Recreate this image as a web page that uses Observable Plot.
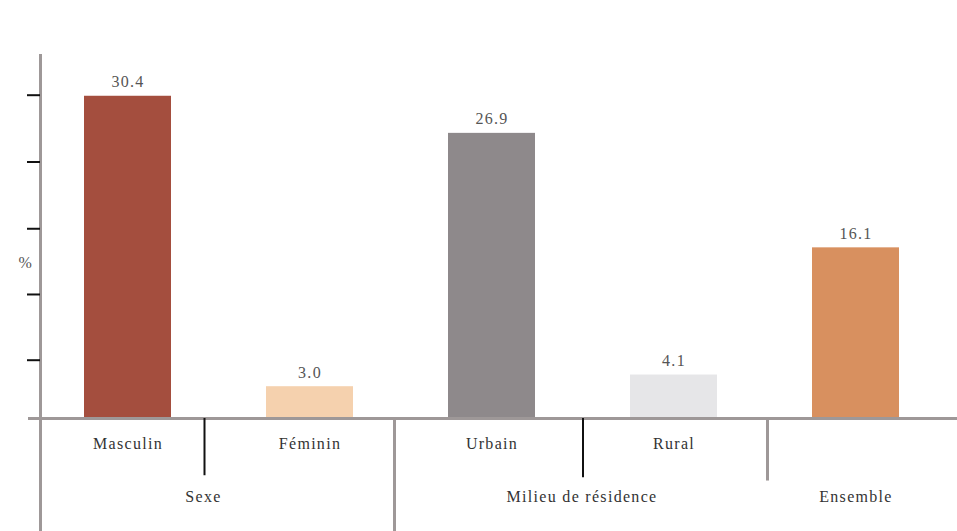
<!DOCTYPE html>
<html>
<head>
<meta charset="utf-8">
<script src="https://cdn.jsdelivr.net/npm/d3@7"></script>
<script src="https://cdn.jsdelivr.net/npm/@observablehq/plot@0.6"></script>
<style>
  html, body { margin: 0; padding: 0; background: #fff; }
  #chart svg { display: block; }
</style>
</head>
<body>
<div id="chart"></div>
<script>
// Data
const categories = ["Masculin", "Féminin", "Urbain", "Rural", "Ensemble"];
const values = [30.4, 3.0, 26.9, 4.1, 16.1];
const barColors = ["#a44e3e", "#f5d1ae", "#8e898b", "#e6e6e8", "#d8905f"];
const groups = ["Sexe", "Milieu de résidence", "Ensemble"];
const yTicks = [5.5, 11.7, 17.9, 24.2, 30.5];

const bars = categories.map((c, i) => ({category: c, value: values[i], color: barColors[i]}));

const W = 957, H = 531;
const gray = "#9e9898";
const serif = "'Liberation Serif', 'DejaVu Serif', serif";
const fs = 16;

const sep = (cat, y2, dx, stroke, sw) =>
  Plot.ruleX([cat], {x: d => d, y1: 0, y2: y2, dx, stroke, strokeWidth: sw, clip: false});
const groupText = (label, cat, dx) =>
  Plot.text([label], {x: () => cat, y: 0, dy: 78, dx, fill: "#333", fontSize: fs});

const chart = Plot.plot({
  width: W,
  height: H,
  marginTop: 55,
  marginBottom: 0,
  marginLeft: 40,
  marginRight: 0,
  style: {fontFamily: serif, background: "#fff", letterSpacing: "1.3px"},
  x: {domain: categories, range: [35.25, 947.75], paddingInner: 0.523, paddingOuter: 0.2615, axis: null},
  y: {domain: [0, 35], range: [418, 47], axis: null, label: null},
  color: {type: "identity"},
  marks: [
    Plot.barY(bars, {x: "category", y: "value", fill: "color"}),
    Plot.text(bars, {x: "category", y: "value", text: d => d.value.toFixed(1), dy: -14, fill: "#555", fontSize: fs}),
    Plot.frame({anchor: "left", stroke: gray, strokeWidth: 3}),
    Plot.ruleY([0], {stroke: gray, strokeWidth: 3, insetLeft: -12}),
    Plot.axisY({ticks: yTicks, tickSize: 13, tickFormat: () => "", label: null, stroke: "#111", strokeWidth: 2, anchor: "left"}),
    sep(categories[0], -5.4, 76.5, "#111", 2),
    sep(categories[1], -11, 84.5, gray, 3),
    sep(categories[2], -5.6, 91, "#111", 2),
    sep(categories[3], -5.9, 93.5, gray, 3),
    Plot.text(categories.slice(0, 4), {x: d => d, y: 0, dy: 25, fill: "#333", fontSize: fs}),
    groupText(groups[0], categories[0], 75.5),
    groupText(groups[1], categories[2], 90),
    groupText(groups[2], categories[4], 0),
    Plot.text(["%"], {y: [14.7], frameAnchor: "left", dx: -22, fill: "#555", fontSize: fs})
  ]
});
document.getElementById("chart").appendChild(chart);
</script>
</body>
</html>
